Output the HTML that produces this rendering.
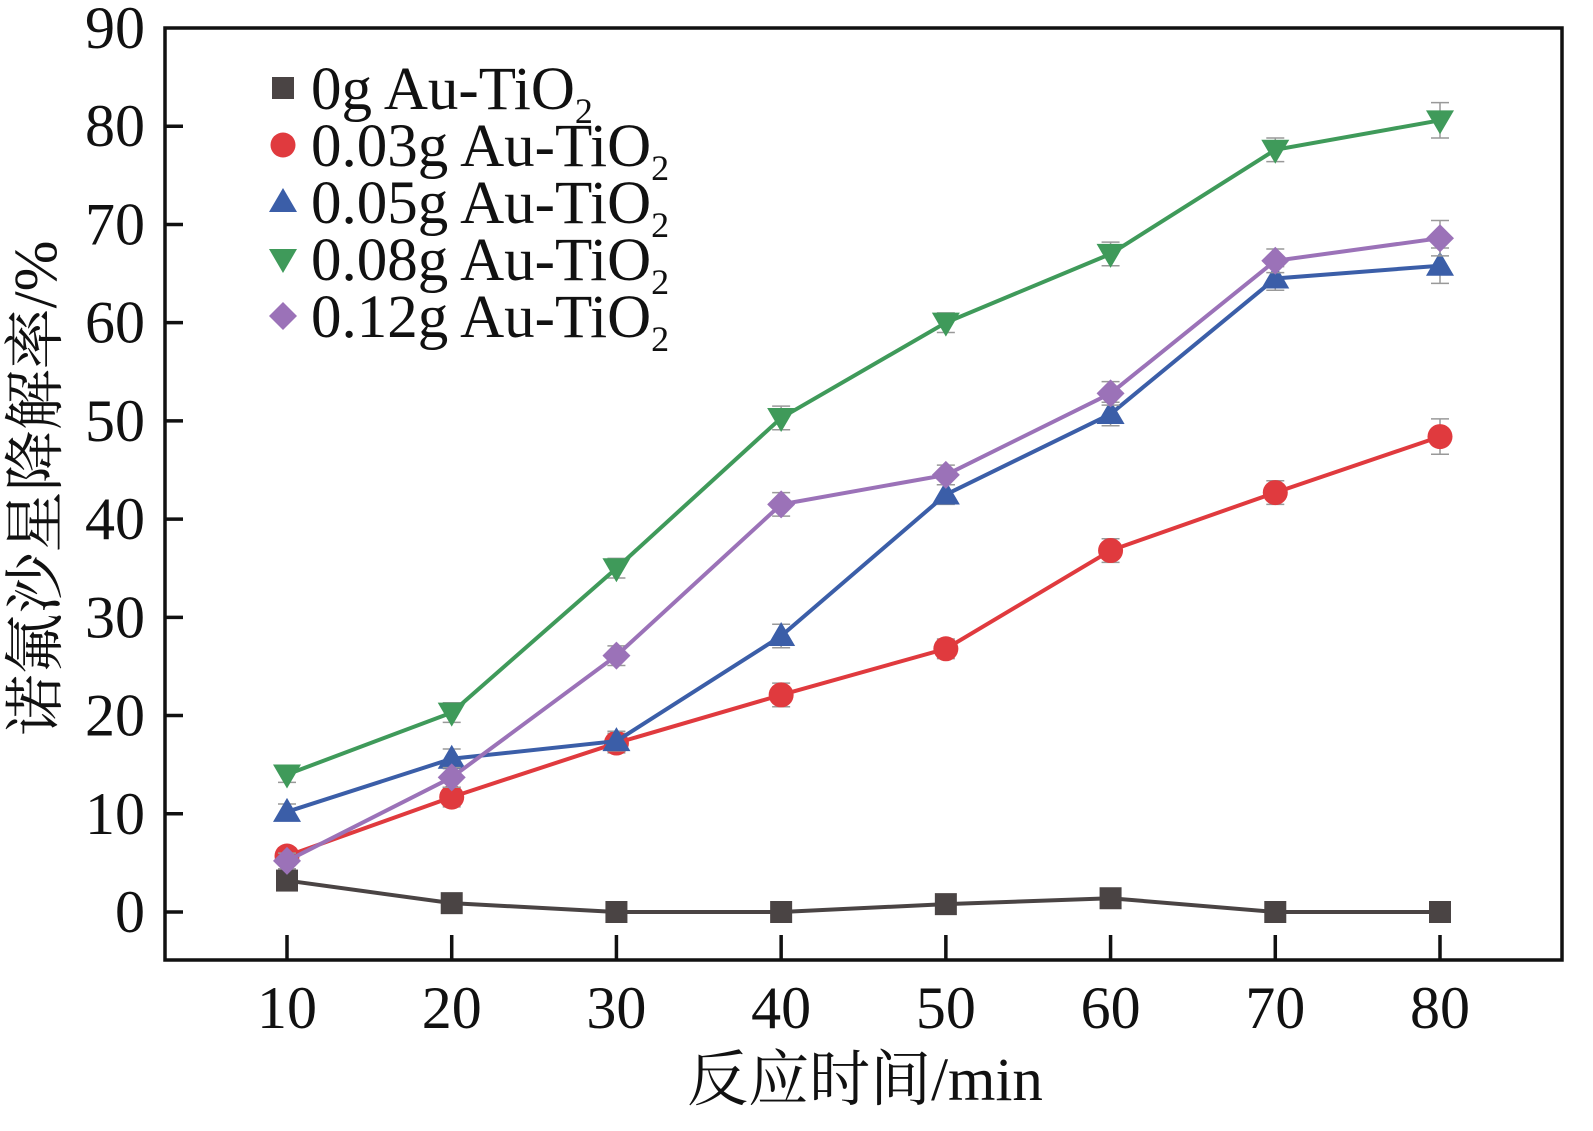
<!DOCTYPE html>
<html><head><meta charset="utf-8"><style>
html,body{margin:0;padding:0;background:#fff}
svg{display:block}
text{font-family:"Liberation Serif","Noto Serif CJK SC",serif;fill:#111}
</style></head><body>
<svg id="c" width="1593" height="1131"></svg>
<script>
const xCats=[10,20,30,40,50,60,70,80];
const yTicks=[0,10,20,30,40,50,60,70,80,90];
const s0=[3.2,0.9,0,0,0.8,1.4,0,0];
const s003=[5.7,11.7,17.2,22.1,26.8,36.8,42.7,48.4];
const s005=[10.2,15.6,17.4,28.1,42.5,50.7,64.5,65.8];
const s008=[14.0,20.3,35.0,50.3,60.0,67.0,77.6,80.6];
const s012=[5.2,13.7,26.1,41.5,44.5,52.8,66.3,68.6];
const errs=[0.8,1.0,1.0,1.2,1.0,1.2,1.2,1.8];
const names=["0g Au-TiO","0.03g Au-TiO","0.05g Au-TiO","0.08g Au-TiO","0.12g Au-TiO"];
const colors=["#4a4444","#e03a3e","#3b5ea8","#3f9a5a","#9b72b8"];
const markers=["square","circle","tri","tridown","diamond"];
const series=[s0,s003,s005,s008,s012];

const NS="http://www.w3.org/2000/svg";
const svg=document.getElementById('c');
const L=165,R=1562,T=28,B=960;
const X=v=>287+(v-10)*(1440-287)/70;
const Y=v=>912-v*(912-28)/90;
function el(tag,a,p){const e=document.createElementNS(NS,tag);for(const k in a)e.setAttribute(k,a[k]);(p||svg).appendChild(e);return e;}

let fr=el('rect',{x:L,y:T,width:R-L,height:B-T,fill:'none',stroke:'#111','stroke-width':3.5});



yTicks.forEach(v=>{
  const y=Y(v);
  if(v<90){let t=el('line',{x1:L,y1:y,x2:L+18,y2:y,stroke:'#111','stroke-width':3.5});
  
  }
  let tx=el('text',{x:L-20,y:y+20,'font-size':60,'text-anchor':'end'});tx.textContent=v;
  
  
});
xCats.forEach(v=>{
  const x=X(v);
  let t=el('line',{x1:x,y1:B,x2:x,y2:B-25,stroke:'#111','stroke-width':3.5});
  
  
  let tx=el('text',{x:x,y:1028,'font-size':60,'text-anchor':'middle'});tx.textContent=v;
  
  
});
let xt=el('text',{x:865,y:1100,'font-size':61,'text-anchor':'middle'});xt.textContent='反应时间/min';


let yt=el('text',{x:0,y:0,'font-size':61,'text-anchor':'middle',transform:'translate(56,488) rotate(-90)'});yt.textContent='诺氟沙星降解率/%';



function marker(g,type,x,y,c){
  if(type==='square')return el('rect',{x:x-11,y:y-11,width:22,height:22,fill:c},g);
  if(type==='circle')return el('circle',{cx:x,cy:y,r:12.5,fill:c},g);
  if(type==='tri')return el('polygon',{points:`${x},${y-14} ${x-14},${y+10} ${x+14},${y+10}`,fill:c},g);
  if(type==='tridown')return el('polygon',{points:`${x},${y+14} ${x-14},${y-10} ${x+14},${y-10}`,fill:c},g);
  return el('polygon',{points:`${x},${y-14} ${x+14},${y} ${x},${y+14} ${x-14},${y}`,fill:c},g);
}
series.forEach((d,i)=>{
  const g=el('g',{});
  
  
  if(i>0)d.forEach((v,j)=>{
    const x=X(xCats[j]);
    let e=el('path',{d:`M${x},${Y(v+errs[j])}V${Y(v-errs[j])}M${x-9},${Y(v+errs[j])}H${x+9}M${x-9},${Y(v-errs[j])}H${x+9}`,stroke:'#999','stroke-width':1.5,fill:'none'},g);
    
    
  });
  let ln=el('polyline',{points:d.map((v,j)=>X(xCats[j])+','+Y(v)).join(' '),fill:'none',stroke:colors[i],'stroke-width':4},g);
  
  
  d.forEach((v,j)=>{
    let m=marker(g,markers[i],X(xCats[j]),Y(v),colors[i]);
    
    
  });
});
names.forEach((n,i)=>{
  const y=88+i*57;
  let m=marker(svg,markers[i],283,y,colors[i]);
  
  
  let t=el('text',{x:311,y:y+21,'font-size':61});
  
  
  t.textContent=n;
  el('tspan',{'font-size':36,dy:14},t).textContent='2';
});
</script>
</body></html>
